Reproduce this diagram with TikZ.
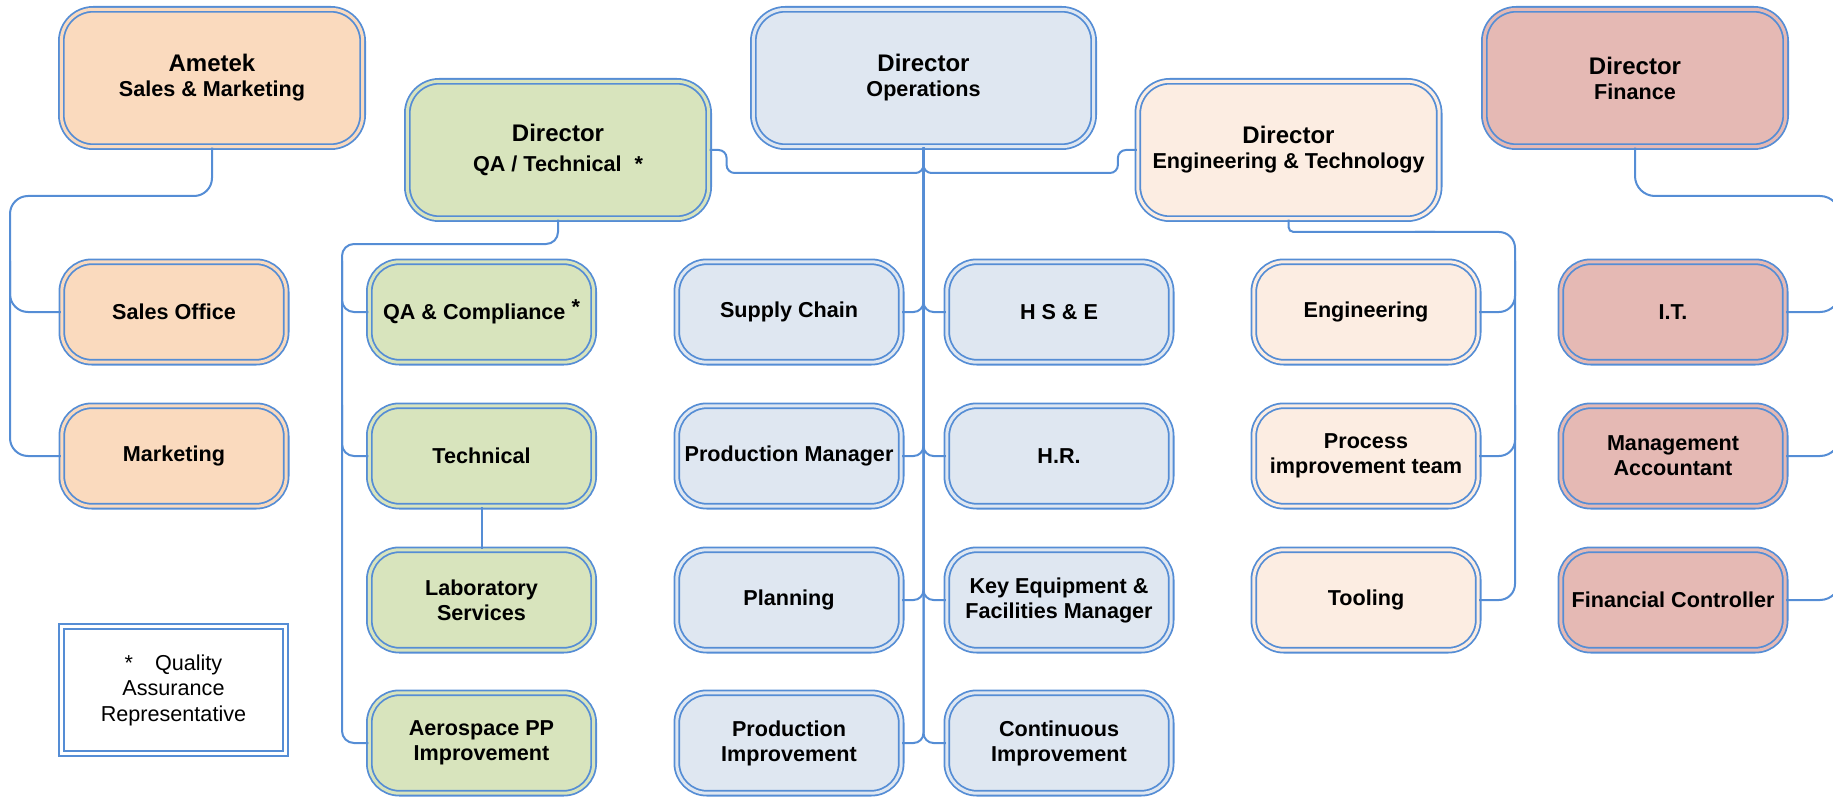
\documentclass[tikz,border=0pt]{standalone}
\usepackage{fontspec}
\setmainfont{Liberation Sans}
\usepackage{xcolor}
\usepackage{tikz}
\definecolor{lnb}{RGB}{85,141,213}
\definecolor{cpch}{RGB}{250,218,190}
\definecolor{cgrn}{RGB}{216,228,189}
\definecolor{cops}{RGB}{223,231,241}
\definecolor{ceng}{RGB}{252,237,226}
\definecolor{cfin}{RGB}{229,185,180}
\newcommand{\ttl}[1]{{\fontsize{12}{14}\selectfont #1}}

\begin{document}
\begin{tikzpicture}[x=0.5pt,y=-0.5pt]
%
\tikzstyle{bx}=[draw=lnb,line width=0.9pt,double distance=1.5pt,rounded corners=15pt,align=center,inner sep=1pt,minimum width=112.2pt,minimum height=50.2pt,font=\fontsize{10.8}{12.5}\selectfont\bfseries]
\tikzstyle{hd}=[bx,minimum width=150.7pt,minimum height=68.7pt,rounded corners=16pt]
\tikzstyle{smk}=[fill=cpch,double=cpch]
\tikzstyle{qat}=[fill=cgrn,double=cgrn]
\tikzstyle{opr}=[fill=cops,double=cops]
\tikzstyle{ent}=[fill=ceng,double=ceng]
\tikzstyle{fnc}=[fill=cfin,double=cfin]
\tikzstyle{lgd}=[draw=lnb,line width=0.9pt,double distance=1.5pt,double=white,fill=white,align=center,minimum width=112.2pt,minimum height=63.7pt,font=\fontsize{10.8}{12.75}\selectfont]
\tikzstyle{cn}=[draw=lnb,line width=1pt,rounded corners=9pt]
%
\useasboundingbox (0,0) rectangle (1833,797);
\clip (0,0) rectangle (1833,797);
%
% directors
\node[hd,smk](ame) at (212,78){\ttl{Ametek}\\Sales \& Marketing};
\node[hd,qat](dqa) at (558,150){\ttl{Director}\\[2.5pt]QA / Technical\hspace{6.5pt}*};
\node[hd,opr,minimum width=170.2pt](dop) at (923.5,78){\ttl{Director}\\Operations};
\node[hd,ent](den) at (1288.5,150){\ttl{Director}\\Engineering \& Technology};
\node[hd,fnc](dfi) at (1635,78){\ttl{Director}\\Finance};
%
% sales & marketing
\node[bx,smk](sal) at (174,312){Sales Office};
\node[bx,smk](mkt) at (174,456){Marketing};
%
% qa / technical
\node[bx,qat](qac) at (481.5,312){QA \& Compliance \raisebox{2.5pt}{*}};
\node[bx,qat](tec) at (481.5,456){Technical};
\node[bx,qat](lab) at (481.5,600){Laboratory\\Services};
\node[bx,qat](aer) at (481.5,743){Aerospace PP\\Improvement};
%
% operations
\node[bx,opr](sup) at (789,312){Supply Chain};
\node[bx,opr](pmg) at (789,456){Production Manager};
\node[bx,opr](pln) at (789,600){Planning};
\node[bx,opr](pim) at (789,743){Production\\Improvement};
\node[bx,opr](hse) at (1059,312){H S \& E};
\node[bx,opr](hr) at (1059,456){H.R.};
\node[bx,opr](kef) at (1059,600){Key Equipment \&\\Facilities Manager};
\node[bx,opr](cim) at (1059,743){Continuous\\Improvement};
%
% engineering
\node[bx,ent](eng) at (1366,312){Engineering};
\node[bx,ent](pit) at (1366,456){Process\\improvement team};
\node[bx,ent](too) at (1366,600){Tooling};
%
% finance
\node[bx,fnc](it) at (1673,312){I.T.};
\node[bx,fnc](mac) at (1673,456){Management\\Accountant};
\node[bx,fnc](fco) at (1673,600){Financial Controller};
%
\node[lgd](key) at (173.5,690){*\hspace{11pt}Quality\\Assurance\\Representative};
%
% bus points
\coordinate(sb) at (10,196);
\coordinate(qb) at (342,244);
\coordinate(eb) at (1515,232);
\coordinate(fb) at (1840,196);
%
\draw[cn](ame.south) |- (sb) |- (mkt.west);
\draw[cn](sal.north -| sb) |- (sal.west);
%
\draw[cn,rounded corners=6pt](dqa.south) |- (qb) |- (aer.west);
\draw[cn,rounded corners=6pt](qac.north -| qb) |- (qac.west);
\draw[cn,rounded corners=6pt](tec.north -| qb) |- (tec.west);
\draw[cn](tec.south) -- (lab.north);
%
\draw[cn,rounded corners=4pt](dqa.east) -- ++(17,0) -- ++(0,23) -| (dop.south);
\draw[cn,rounded corners=4pt](den.west) -- ++(-19,0) -- ++(0,23) -| (dop.south);
\draw[cn,rounded corners=5pt](dop.south) |- (sup.east);
\draw[cn,rounded corners=5pt](dop.south) |- (hse.west);
\draw[cn,rounded corners=5pt](dop.south) |- (pmg.east);
\draw[cn,rounded corners=5pt](dop.south) |- (hr.west);
\draw[cn,rounded corners=5pt](dop.south) |- (pln.east);
\draw[cn,rounded corners=5pt](dop.south) |- (kef.west);
\draw[cn,rounded corners=5pt](dop.south) |- (pim.east);
\draw[cn,rounded corners=5pt](dop.south) |- (cim.west);
%
\draw[cn,rounded corners=2.5pt](den.south) |- ([xshift=-40pt]eb);
\draw[cn,rounded corners=8pt]([xshift=-50pt]eb) -| (too.east -| eb) -- (too.east);
\draw[cn,rounded corners=8pt](eng.north -| eb) |- (eng.east);
\draw[cn,rounded corners=8pt](pit.north -| eb) |- (pit.east);
%
\draw[cn,rounded corners=10pt](dfi.south) |- (fb) |- (fco.east);
\draw[cn,rounded corners=10pt](it.north -| fb) |- (it.east);
\draw[cn,rounded corners=10pt](mac.north -| fb) |- (mac.east);
\end{tikzpicture}
\end{document}
